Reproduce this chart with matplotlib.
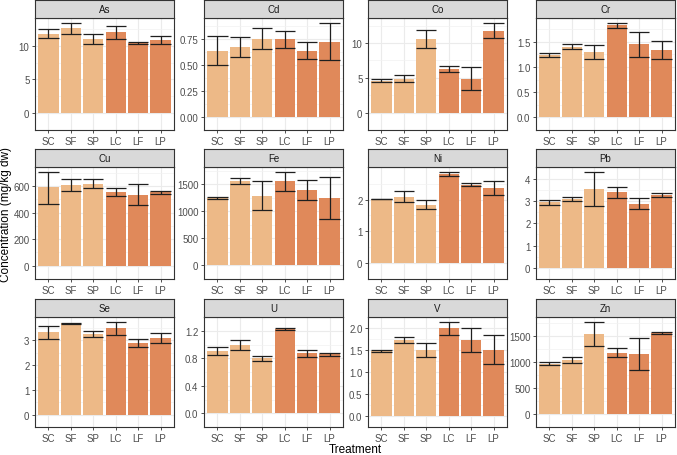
import numpy as np
import matplotlib.pyplot as plt

plt.rcParams['font.family'] = ['Liberation Sans', 'DejaVu Sans']

elements = ['As', 'Cd', 'Co', 'Cr', 'Cu', 'Fe', 'Ni', 'Pb', 'Se', 'U', 'V', 'Zn']
treatments = ['SC', 'SF', 'SP', 'LC', 'LF', 'LP']

means = [
    [11.8, 12.6, 11.0, 12.0, 10.4, 10.8],
    [0.64, 0.675, 0.755, 0.75, 0.64, 0.727],
    [4.6, 4.9, 10.6, 6.2, 4.9, 11.8],
    [1.23, 1.40, 1.30, 1.83, 1.45, 1.34],
    [590, 608, 620, 556, 536, 554],
    [1245, 1558, 1290, 1555, 1393, 1250],
    [2.02, 2.09, 1.83, 2.81, 2.47, 2.36],
    [2.94, 3.08, 3.53, 3.39, 2.87, 3.26],
    [3.32, 3.68, 3.25, 3.49, 2.89, 3.10],
    [0.905, 0.995, 0.805, 1.228, 0.872, 0.855],
    [1.48, 1.73, 1.50, 1.99, 1.73, 1.51],
    [970, 1042, 1548, 1183, 1158, 1556],
]
err_lo = [
    [11.1, 11.8, 10.3, 11.0, 10.2, 10.2],
    [0.505, 0.579, 0.652, 0.67, 0.561, 0.546],
    [4.43, 4.47, 9.32, 5.78, 3.25, 10.67],
    [1.19, 1.353, 1.157, 1.776, 1.20, 1.163],
    [465, 560, 588, 528, 458, 542],
    [1227, 1511, 1028, 1375, 1205, 864],
    [2.01, 1.92, 1.69, 2.75, 2.42, 2.15],
    [2.83, 3.00, 2.76, 3.14, 2.62, 3.15],
    [3.04, 3.67, 3.12, 3.23, 2.73, 2.90],
    [0.852, 0.914, 0.765, 1.206, 0.823, 0.835],
    [1.446, 1.66, 1.34, 1.846, 1.46, 1.19],
    [940, 987, 1313, 1097, 852, 1535],
]
err_hi = [
    [12.5, 13.45, 11.7, 13.0, 10.55, 11.4],
    [0.78, 0.774, 0.859, 0.827, 0.723, 0.909],
    [4.77, 5.36, 11.9, 6.67, 6.54, 12.95],
    [1.27, 1.457, 1.44, 1.88, 1.696, 1.51],
    [709, 651, 651, 584, 614, 567],
    [1267, 1608, 1557, 1733, 1580, 1636],
    [2.03, 2.27, 1.97, 2.88, 2.53, 2.58],
    [3.04, 3.18, 4.30, 3.63, 3.11, 3.37],
    [3.59, 3.69, 3.38, 3.75, 3.05, 3.30],
    [0.963, 1.07, 0.84, 1.247, 0.926, 0.872],
    [1.51, 1.80, 1.656, 2.13, 1.99, 1.83],
    [998, 1097, 1780, 1267, 1465, 1576],
]
yticks = [
    [0, 5, 10],
    [0.0, 0.25, 0.5, 0.75],
    [0, 5, 10],
    [0.0, 0.5, 1.0, 1.5],
    [0, 200, 400, 600],
    [0, 500, 1000, 1500],
    [0, 1, 2],
    [0, 1, 2, 3, 4],
    [0, 1, 2, 3],
    [0.0, 0.4, 0.8, 1.2],
    [0.0, 0.5, 1.0, 1.5, 2.0],
    [0, 500, 1000, 1500],
]
ytick_fmt = ['{:.0f}', '{:.2f}', '{:.0f}', '{:.1f}', '{:.0f}', '{:.0f}',
             '{:.0f}', '{:.0f}', '{:.0f}', '{:.1f}', '{:.1f}', '{:.0f}']

light = '#EDB987'
dark = '#E0895A'
bar_colors = [light, light, light, dark, dark, dark]

W, H = 677, 456
fig = plt.figure(figsize=(W / 100, H / 100), dpi=100)

col_left = [35, 204, 368, 536]
col_w = 139
row_top = [19, 168, 318]
row_bot = [131, 280, 428]
strip_h = 18

def px_axes(left, top, right, bottom):
    return fig.add_axes([left / W, 1 - bottom / H, (right - left) / W, (bottom - top) / H])

x = np.arange(len(treatments))
for i, el in enumerate(elements):
    r, c = divmod(i, 4)
    l = col_left[c]
    ax = px_axes(l, row_top[r], l + col_w, row_bot[r])
    m = np.array(means[i])
    lo = np.array(err_lo[i])
    hi = np.array(err_hi[i])
    top = hi.max()
    ax.set_ylim(-0.05 * top, 1.05 * top)
    ax.set_xlim(-0.6, 5.6)
    ax.set_axisbelow(True)
    ax.bar(x, m, width=0.9, color=bar_colors, zorder=2)
    ax.vlines(x, lo, hi, color='#1f1f1f', linewidth=0.9, zorder=3)
    ax.hlines(lo, x - 0.45, x + 0.45, color='#1f1f1f', linewidth=0.9, zorder=3)
    ax.hlines(hi, x - 0.45, x + 0.45, color='#1f1f1f', linewidth=0.9, zorder=3)

    yt = yticks[i]
    ax.set_yticks(yt)
    ax.set_yticklabels([ytick_fmt[i].format(v) for v in yt])
    step = yt[1] - yt[0]
    minor = [v + step / 2 for v in yt] + [yt[0] - step / 2]
    ax.set_yticks(minor, minor=True)
    ax.set_xticks(x)
    ax.set_xticklabels(treatments)
    ax.grid(True, which='major', color='#EBEBEB', linewidth=0.8)
    ax.grid(True, which='minor', axis='y', color='#F2F2F2', linewidth=0.5)
    ax.tick_params(which='minor', length=0)
    ax.tick_params(which='major', length=2.5, width=0.6, color='#333333',
                   labelsize=7, labelcolor='#4D4D4D', pad=1.5)
    for s in ax.spines.values():
        s.set_color('#333333')
        s.set_linewidth(0.8)

    sax = px_axes(l, row_top[r] - strip_h, l + col_w, row_top[r])
    sax.set_facecolor('#D9D9D9')
    sax.set_xticks([])
    sax.set_yticks([])
    for s in sax.spines.values():
        s.set_color('#333333')
        s.set_linewidth(0.8)
    sax.text(0.5, 0.5, el, ha='center', va='center', fontsize=7,
             color='#1A1A1A', transform=sax.transAxes)

fig.text(355 / W, 1 - 450 / H, 'Treatment', ha='center', va='center', fontsize=8.5)
fig.text(6 / W, 1 - 215 / H, 'Concentration (mg/kg dw)', ha='center', va='center',
         rotation=90, fontsize=8.5)

fig.savefig('out.png', dpi=100)
